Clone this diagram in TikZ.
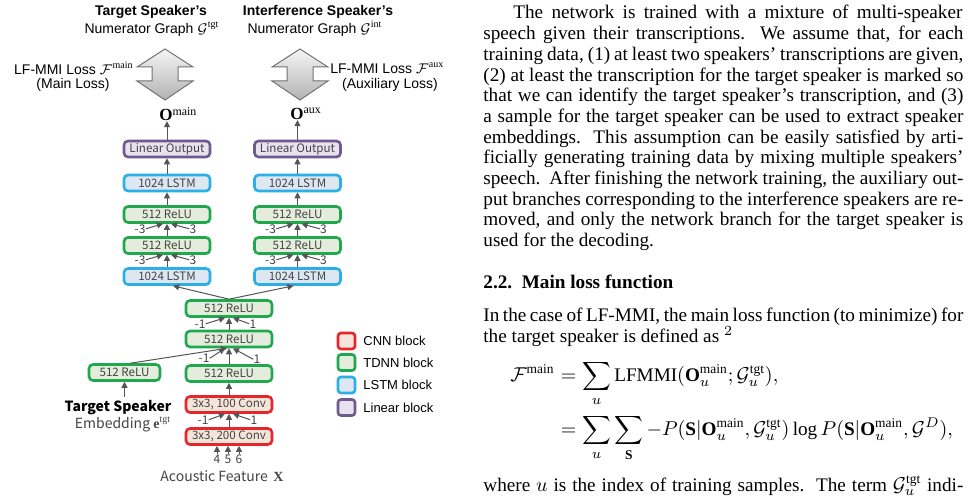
\documentclass[tikz,border=0pt]{standalone}
\usepackage{amsmath}
\usepackage{fontspec}
\setmainfont{Liberation Serif}
\setsansfont{Liberation Sans}
\newfontfamily\boxfont{Noto Sans CJK JP}
\usetikzlibrary{arrows.meta}
\definecolor{cnnB}{HTML}{E8262A}\definecolor{cnnF}{HTML}{F5E4DA}
\definecolor{tdnnB}{HTML}{20A84F}\definecolor{tdnnF}{HTML}{E4EDDC}
\definecolor{lstmB}{HTML}{2AAFE8}\definecolor{lstmF}{HTML}{DDE7F1}
\definecolor{linB}{HTML}{6E5A8E}\definecolor{linF}{HTML}{E8E2EE}
\definecolor{txtg}{HTML}{444444}
\definecolor{lineg}{HTML}{555555}
\tikzset{
  blk/.style={rounded corners=2pt, line width=1.3pt, minimum width=43pt, minimum height=8pt,
    inner sep=0pt, text=txtg, font=\boxfont\fontsize{5.8}{7}\selectfont},
  cnn/.style={blk, draw=cnnB, fill=cnnF},
  tdnn/.style={blk, draw=tdnnB, fill=tdnnF},
  lstm/.style={blk, draw=lstmB, fill=lstmF},
  lin/.style={blk, draw=linB, fill=linF},
  arr/.style={draw=lineg, line width=0.5pt, -{Triangle[length=3pt,width=3pt]}},
  lab/.style={inner sep=0pt, text=txtg, font=\boxfont\fontsize{6}{7}\selectfont},
  ttl/.style={inner sep=0pt, font=\sffamily\fontsize{7}{8}\selectfont},
  mth/.style={inner sep=0pt, font=\fontsize{8.5}{10}\selectfont},
  leg/.style={rounded corners=1.5pt, line width=1.3pt, minimum width=8.5pt, minimum height=8pt, inner sep=0pt},
  legt/.style={inner sep=0pt, anchor=west, font=\sffamily\fontsize{6.5}{8}\selectfont},
  dbl/.style={draw=gray!90!black, line width=0.5pt, top color=gray!8, bottom color=gray!60},
  para/.style={inner sep=0pt, anchor=base west, font=\fontsize{9.6}{11}\selectfont},
}
\newcommand{\jl}[1]{\makebox[240pt][s]{#1}}
\begin{document}
\begin{tikzpicture}[x=0.5pt, y=-0.5pt]
\useasboundingbox (0,0) rectangle (969,496);
\fill[white] (0,0) rectangle (969,496);

% ---------- titles ----------
\node[ttl, font=\sffamily\bfseries\fontsize{7}{8}\selectfont] (t1) at (151,12) {Target Speaker's};
\node[ttl] (t2) at (152,29) {Numerator Graph $\mathcal{G}^{\mathrm{tgt}}$};
\node[ttl, font=\sffamily\bfseries\fontsize{7}{8}\selectfont] (t3) at (318,12) {Interference Speaker's};
\node[ttl] (t4) at (315,29) {Numerator Graph $\mathcal{G}^{\mathrm{int}}$};

% ---------- double arrows ----------
\foreach \cx/\nm in {165/da1, 300/da2} {
  \path[dbl] (\cx,49) -- (\cx+28,67) -- (\cx+13,67) -- (\cx+13,81) -- (\cx+28,81)
     -- (\cx,100) -- (\cx-28,81) -- (\cx-13,81) -- (\cx-13,67) -- (\cx-28,67) -- cycle;
  \coordinate (\nm) at (\cx,75);
}
\node[ttl, anchor=east] (l1) at (134,68) {LF-MMI Loss $\mathcal{F}^{\mathrm{main}}$};
\node[ttl] (l2) at (73,85) {(Main Loss)};
\node[ttl, anchor=west] (l3) at (330,68) {LF-MMI Loss $\mathcal{F}^{\mathrm{aux}}$};
\node[ttl] (l4) at (390,85) {(Auxiliary Loss)};

\node[mth, anchor=west] (om) at (159,114) {$\mathbf{O}^{\mathrm{main}}$};
\node[mth, anchor=west] (oa) at (290,114) {$\mathbf{O}^{\mathrm{aux}}$};

% ---------- branches ----------
\node[lin]  (lina) at (167,149) {Linear Output};
\node[lstm] (lsa1) at (167,183) {1024 LSTM};
\node[tdnn] (rea1) at (167,214.5) {512 ReLU};
\node[tdnn] (rea2) at (167,245.5) {512 ReLU};
\node[lstm] (lsa2) at (167,276.5) {1024 LSTM};

\node[lin]  (linb) at (297.5,149) {Linear Output};
\node[lstm] (lsb1) at (297.5,183) {1024 LSTM};
\node[tdnn] (reb1) at (297.5,214.5) {512 ReLU};
\node[tdnn] (reb2) at (297.5,245.5) {512 ReLU};
\node[lstm] (lsb2) at (297.5,276.5) {1024 LSTM};

% ---------- shared trunk ----------
\node[tdnn] (s1) at (229,308.5) {512 ReLU};
\node[tdnn] (s2) at (229,339) {512 ReLU};
\node[tdnn] (s3) at (229,373.5) {512 ReLU};
\node[cnn]  (c1) at (229,404.5) {3x3, 100 Conv};
\node[cnn]  (c2) at (229,436.5) {3x3, 200 Conv};
\node[tdnn, minimum width=35.5pt] (emb) at (124.5,372.5) {512 ReLU};

% ---------- arrows to outputs ----------
\draw[arr] (lina.north) -- (lina.north |- om.south);
\draw[arr] (linb.north) -- (linb.north |- oa.south);
\foreach \a/\b in {lsa1/lina, rea1/lsa1, lsb1/linb, reb1/lsb1} \draw[arr] (\a.north) -- (\b.south);

% converging TDNN arrows (-3, 3)
\foreach \lo/\up in {rea2/rea1, lsa2/rea2, reb2/reb1, lsb2/reb2} {
  \draw[arr] (\lo.north) -- (\up.south);
  \node[lab] (\up-m) at ([shift={(-13.5pt,-2.5pt)}]\up.south) {-3};
  \node[lab] (\up-p) at ([shift={(13pt,-2.5pt)}]\up.south) {3};
  \draw[arr] (\up-m.east) -- ([xshift=-2pt]\up.south);
  \draw[arr] (\up-p.west) -- ([xshift=2pt]\up.south);
}

% shared trunk connections
\draw[arr] (s1.north) -- ([xshift=3pt]lsa2.south);
\draw[arr] (s1.north) -- ([xshift=-2pt]lsb2.south);

\draw[arr] (s2.north) -- (s1.south);
\node[lab] (s1m) at ([shift={(-14.5pt,-3pt)}]s1.south) {-1};
\node[lab] (s1p) at ([shift={(12pt,-3pt)}]s1.south) {1};
\draw[arr] (s1m.east) -- ([xshift=-2pt]s1.south);
\draw[arr] (s1p.west) -- ([xshift=2pt]s1.south);

\draw[arr] (s3.north) -- (s2.south);
\node[lab] (s2m) at ([shift={(-12.5pt,-5pt)}]s2.south) {-1};
\node[lab] (s2p) at ([shift={(14pt,-5.5pt)}]s2.south) {1};
\draw[arr] (s2m.east) -- ([xshift=-2pt]s2.south);
\draw[arr] (s2p.west) -- ([xshift=2pt]s2.south);
\draw[arr] ([xshift=3pt]emb.north) -- ([xshift=-1pt]s2.south);

\draw[arr] (c1.north) -- (s3.south);
\draw[arr] (c2.north) -- (c1.south);
\node[lab] (c1m) at ([shift={(-13pt,-3pt)}]c1.south) {-1};
\node[lab] (c1p) at ([shift={(12.5pt,-3pt)}]c1.south) {1};
\draw[arr] (c1m.east) -- ([xshift=-2pt]c1.south);
\draw[arr] (c1p.west) -- ([xshift=2pt]c1.south);

% inputs
\node[lab] (n4) at (217,459) {4};
\node[lab] (n5) at (228,459) {5};
\node[lab] (n6) at (239,459) {6};
\foreach \n in {n4,n5,n6} \draw[arr] (\n.north) -- (\n.north |- c2.south);
\node[lab, font=\boxfont\fontsize{7}{8}\selectfont] (af) at (222,476) {Acoustic Feature \,$\mathbf{X}$};

\node[lab, text=black, font=\boxfont\bfseries\fontsize{7}{8}\selectfont] (ts) at (118,408) {Target Speaker};
\node[lab, font=\boxfont\fontsize{7}{8}\selectfont] (te) at (123,424) {Embedding $\mathbf{e}^{\mathrm{tgt}}$};
\coordinate (tsin) at (124.5,397);
\draw[arr] (tsin) -- (emb.south);

% ---------- legend ----------
\node[leg, draw=cnnB, fill=cnnF] (g1) at (346.5,341) {};
\node[leg, draw=tdnnB, fill=tdnnF] (g2) at (346.5,362.5) {};
\node[leg, draw=lstmB, fill=lstmF] (g3) at (346.5,385) {};
\node[leg, draw=linB, fill=linF] (g4) at (346.5,407.5) {};
\node[legt] (gt1) at (363,341) {CNN block};
\node[legt] (gt2) at (363,362.5) {TDNN block};
\node[legt] (gt3) at (363,385) {LSTM block};
\node[legt] (gt4) at (363,407.5) {Linear block};

% ---------- right text ----------
\node[para] (p1) at (513,19) {\makebox[224.5pt][s]{The network is trained with a mixture of multi-speaker}};
\node[para] (p2) at (483,39.7) {\jl{speech given their transcriptions.\ \ We assume that, for each}};
\node[para] (p3) at (483,60.4) {\jl{training data, (1) at least two speakers’ transcriptions are given,}};
\node[para] (p4) at (483,81.1) {\jl{(2) at least the transcription for the target speaker is marked so}};
\node[para] (p5) at (483,101.8) {\jl{that we can identify the target speaker’s transcription, and (3)}};
\node[para] (p6) at (483,122.5) {\jl{a sample for the target speaker can be used to extract speaker}};
\node[para] (p7) at (483,143.2) {\jl{embeddings.\ \ This assumption can be easily satisfied by arti-}};
\node[para] (p8) at (483,163.9) {\jl{ficially generating training data by mixing multiple speakers’}};
\node[para] (p9) at (483,184.6) {\jl{speech.\ \ After finishing the network training, the auxiliary out-}};
\node[para] (p10) at (483,205.3) {\jl{put branches corresponding to the interference speakers are re-}};
\node[para] (p11) at (483,226) {\jl{moved, and only the network branch for the target speaker is}};
\node[para] (p12) at (483,246.7) {used for the decoding.};

\node[para, font=\bfseries\fontsize{9.6}{11}\selectfont] (h1) at (483,289) {2.2.\ \ Main loss function};
\node[para] (q1) at (483,322) {\jl{In the case of LF-MMI, the main loss function (to minimize) for}};
\node[para] (q2) at (483,342.7) {the target speaker is defined as $^2$};

\node[para, anchor=base east] (e1a) at (555,382) {$\displaystyle \mathcal{F}^{\mathrm{main}}$};
\node[para] (e1b) at (555,382) {$\displaystyle {}=\sum_u \mathrm{LFMMI}(\mathbf{O}_u^{\mathrm{main}};\mathcal{G}_u^{\mathrm{tgt}}),$};
\node[para] (e2) at (555,436) {$\displaystyle {}=\sum_u\sum_{\mathbf{S}} -P(\mathbf{S}|\mathbf{O}_u^{\mathrm{main}},\mathcal{G}_u^{\mathrm{tgt}})\log P(\mathbf{S}|\mathbf{O}_u^{\mathrm{main}},\mathcal{G}^{D}),$};

\node[para] (q3) at (483,491) {\jl{where $u$ is the index of training samples.\ \ The term $\mathcal{G}_u^{\mathrm{tgt}}$ indi-}};
\end{tikzpicture}
\end{document}
